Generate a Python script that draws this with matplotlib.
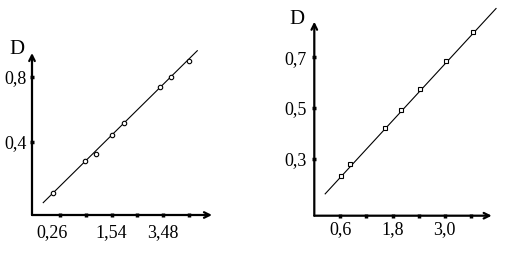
import matplotlib
matplotlib.use('Agg')
import matplotlib.pyplot as plt
from matplotlib.transforms import ScaledTranslation

plt.rcParams['font.family'] = ['Liberation Serif', 'DejaVu Serif']

# left panel: x in tick-position units (ticks 1..6), y is D
left_x = [0.72, 1.97, 2.38, 3.02, 3.48, 4.89, 5.29, 5.99]
left_d = [0.084, 0.285, 0.326, 0.443, 0.515, 0.737, 0.802, 0.90]
left_line_x = [0.35, 6.32]
left_line_d = [0.027, 0.962]
left_xticks = [1, 2, 3, 4, 5, 6]
left_xlabels = ['0,26', '', '1,54', '', '3,48', '']
left_yticks = [0.4, 0.8]
left_ylabels = ['0,4', '0,8']

# right panel
right_x = [0.61, 0.83, 1.63, 2.0, 2.43, 3.04, 3.66]
right_d = [0.232, 0.278, 0.421, 0.494, 0.573, 0.687, 0.798]
right_line_x = [0.25, 4.18]
right_line_d = [0.162, 0.892]
right_xticks = [0.6, 1.2, 1.8, 2.4, 3.0, 3.6]
right_xlabels = ['0,6', '', '1,8', '', '3,0', '']
right_yticks = [0.3, 0.5, 0.7]
right_ylabels = ['0,3', '0,5', '0,7']


def draw_panel(ax, xs, ds, lx, ld, xt, xl, yt, yl, marker, xpad, ypad, dpos):
    for s in ax.spines.values():
        s.set_visible(False)
    # axis lines with open arrow heads
    ax.annotate('', xy=(1, 0), xytext=(0, 0), xycoords='axes fraction',
                arrowprops=dict(arrowstyle='->', lw=1.6, color='black',
                                shrinkA=0, shrinkB=0, mutation_scale=10))
    ax.annotate('', xy=(0, 1), xytext=(0, 0), xycoords='axes fraction',
                arrowprops=dict(arrowstyle='->', lw=1.6, color='black',
                                shrinkA=0, shrinkB=0, mutation_scale=10))
    ax.plot(lx, ld, color='black', lw=0.8, clip_on=False)
    ax.plot(xs, ds, linestyle='none', marker=marker, ms=3.2, mfc='white',
            mec='black', mew=0.8, clip_on=False)
    ax.set_xticks(xt)
    ax.set_xticklabels(xl)
    ax.set_yticks(yt)
    ax.set_yticklabels(yl)
    ax.tick_params(axis='both', direction='inout', length=3, width=2.5,
                   labelsize=13)
    ax.tick_params(axis='x', pad=xpad)
    ax.tick_params(axis='y', pad=ypad)
    ax.text(dpos[0], dpos[1], 'D', transform=ax.transAxes, fontsize=15,
            ha='center', va='center')
    ax.patch.set_visible(False)


fig = plt.figure(figsize=(5.08, 2.54), dpi=100)

ax1 = fig.add_axes([32 / 508, 39 / 254, 180 / 508, 162 / 254])
ax1.set_xlim(-0.085, 6.89)
ax1.set_ylim(-0.049, 0.948)
draw_panel(ax1, left_x, left_d, left_line_x, left_line_d, left_xticks,
           left_xlabels, left_yticks, left_ylabels, 'o', 5, 2.5, (-0.085, 1.02))
# first label sits a little left of its tick in the original
lab = ax1.get_xticklabels()[0]
lab.set_transform(lab.get_transform()
                  + ScaledTranslation(-0.08, 0, fig.dpi_scale_trans))

ax2 = fig.add_axes([314.3 / 508, 38.3 / 254, 177.4 / 508, 194 / 254])
ax2.set_xlim(0, 4.08)
ax2.set_ylim(0.076, 0.84)
draw_panel(ax2, right_x, right_d, right_line_x, right_line_d, right_xticks,
           right_xlabels, right_yticks, right_ylabels, 's', 2.5, 4, (-0.1, 1.01))

fig.savefig('out.png', dpi=100)
